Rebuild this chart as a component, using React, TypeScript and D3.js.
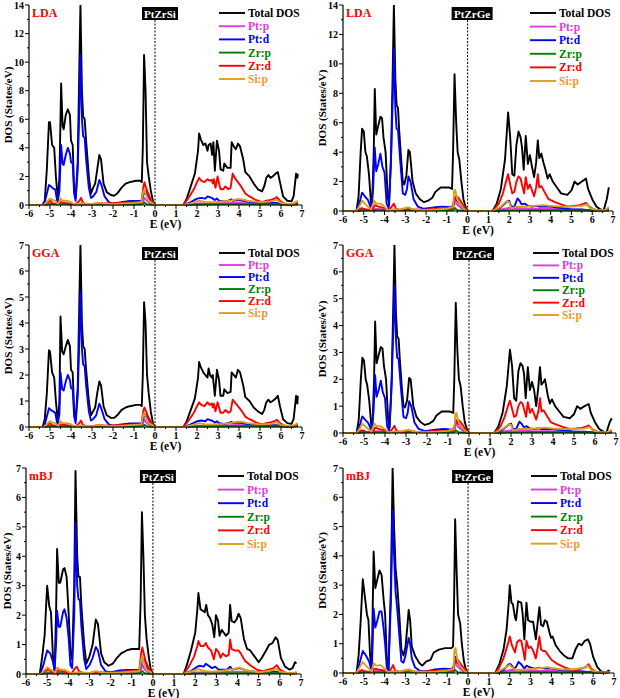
import React from "react";
import * as d3 from "d3";

type P = [number, number];

const ENERGY_TICKS = [-6, -5, -4, -3, -2, -1, 0, 1, 2, 3, 4, 5, 6, 7];
const LDA_TICKS = [0, 2, 4, 6, 8, 10, 12, 14];
const GGA_TICKS = [0, 1, 2, 3, 4, 5, 6, 7];

const SERIES_NAMES = ["Total DOS", "Pt:p", "Pt:d", "Zr:p", "Zr:d", "Si:p"];
const SERIES_COLORS = ["#000000", "#e03ce0", "#0000ff", "#008000", "#ff0000", "#d8a01c"];
const LEGEND_COLORS = ["#000000", "#e03ce0", "#0000ff", "#008000", "#ff0000", "#f0962a"];

// ---------------- LDA PtZrSi ----------------
const ldaSiTotal: P[] = [[-6,0],[-5.35,0],[-5.25,0.3],[-5.15,2.5],[-5.05,5.8],[-5.0,5.8],[-4.9,4.2],[-4.8,4.0],[-4.72,2.0],[-4.62,0.3],[-4.55,2],[-4.47,8.5],[-4.4,5.5],[-4.35,5.3],[-4.25,6.3],[-4.15,6.7],[-4.05,6.3],[-4.0,4.5],[-3.92,4.2],[-3.85,1.0],[-3.78,0.5],[-3.68,3.0],[-3.6,10],[-3.55,14],[-3.48,8],[-3.42,6.2],[-3.35,6.0],[-3.28,4.5],[-3.15,2.0],[-3.05,0.8],[-2.95,1.2],[-2.85,1.5],[-2.75,2.5],[-2.65,3.5],[-2.57,3.2],[-2.45,1.5],[-2.3,0.9],[-2.1,0.7],[-1.95,0.65],[-1.8,0.8],[-1.6,1.2],[-1.4,1.5],[-1.2,1.6],[-0.9,1.7],[-0.7,1.7],[-0.63,1.6],[-0.58,4],[-0.52,10.5],[-0.45,8],[-0.38,3.0],[-0.3,2.0],[-0.2,1.0],[-0.1,0.3],[0,0],[1.35,0],[1.5,0.4],[1.7,1.3],[1.9,2.2],[2.05,3.8],[2.1,5.0],[2.18,4.6],[2.3,4.2],[2.4,4.3],[2.5,3.8],[2.55,4.2],[2.65,4.3],[2.72,3.5],[2.78,4.4],[2.85,2.4],[2.95,4.5],[3.05,3.8],[3.12,2.5],[3.25,2.4],[3.3,2.9],[3.45,2.6],[3.6,2.6],[3.65,4.4],[3.75,4.1],[3.85,3.9],[3.95,4.3],[4.05,4.1],[4.2,3.2],[4.3,2.3],[4.5,2.0],[4.7,1.5],[4.9,1.1],[5.1,0.95],[5.2,1.3],[5.3,1.9],[5.4,2.1],[5.5,1.9],[5.6,2.0],[5.75,2.2],[5.85,2.3],[5.95,1.6],[6.1,0.6],[6.3,0.3],[6.5,0.25],[6.6,0.6],[6.72,2.2],[6.78,1.9],[6.8,2.2]];
const ldaSiPtp: P[] = [[-6,0],[-5.3,0],[-5.0,0.1],[-4.6,0.02],[-4.5,0.1],[-4,0.05],[-3.5,0.05],[-2.7,0.08],[-2,0.05],[-1,0.08],[-0.6,0.1],[-0.5,0.5],[-0.4,0.3],[-0.2,0.1],[0,0],[1.4,0],[2,0.1],[3,0.12],[4,0.15],[5,0.08],[6,0.05],[6.8,0.05]];
const ldaSiPtd: P[] = [[-6,0],[-5.35,0],[-5.25,0.2],[-5.15,0.8],[-5.05,1.4],[-4.95,1.3],[-4.85,1.15],[-4.75,1.1],[-4.65,0.2],[-4.55,1],[-4.47,4.2],[-4.4,2.9],[-4.35,2.8],[-4.25,3.5],[-4.15,4.0],[-4.05,3.6],[-4.0,3.0],[-3.92,2.9],[-3.85,0.8],[-3.78,0.3],[-3.68,2.5],[-3.6,7],[-3.55,10.5],[-3.48,6],[-3.42,4.8],[-3.35,4.7],[-3.28,3.2],[-3.15,1.2],[-3.05,0.5],[-2.95,0.6],[-2.8,0.9],[-2.65,1.75],[-2.55,1.4],[-2.4,0.6],[-2.2,0.2],[-2.0,0.1],[-1.6,0.2],[-1.2,0.28],[-0.8,0.28],[-0.63,0.3],[-0.55,0.7],[-0.5,1.0],[-0.4,0.9],[-0.3,0.5],[-0.15,0.2],[0,0],[1.4,0],[1.7,0.2],[2.0,0.45],[2.2,0.5],[2.4,0.45],[2.5,0.6],[2.6,0.55],[2.7,0.5],[2.85,0.35],[2.95,0.45],[3.05,0.3],[3.3,0.25],[3.5,0.3],[3.65,0.4],[3.7,0.3],[4.0,0.35],[4.3,0.25],[4.6,0.2],[5.0,0.15],[5.5,0.15],[5.8,0.15],[6.0,0.05],[6.5,0.02],[6.75,0.1],[6.8,0.05]];
const ldaSiZrp: P[] = [[-6,0],[-5.3,0],[-5,0.06],[-4.5,0.06],[-3.5,0.04],[-2.7,0.04],[-1,0.04],[-0.6,0.06],[-0.5,0.18],[-0.4,0.06],[0,0],[1.4,0],[2,0.04],[4,0.06],[6,0.05],[6.8,0.05]];
const ldaSiZrd: P[] = [[-6,0],[-5.3,0],[-5.1,0.2],[-5.0,0.3],[-4.9,0.15],[-4.7,0.05],[-4.5,0.2],[-4.3,0.15],[-4.0,0.1],[-3.8,0.02],[-3.6,0.3],[-3.52,0.5],[-3.45,0.2],[-3.3,0.05],[-3.0,0.05],[-2.65,0.15],[-2.4,0.1],[-2.0,0.12],[-1.5,0.15],[-1.0,0.18],[-0.65,0.2],[-0.55,1.3],[-0.5,1.6],[-0.45,1.3],[-0.35,0.9],[-0.2,0.4],[0,0],[1.35,0],[1.6,0.5],[1.85,1.1],[2.0,1.6],[2.1,1.9],[2.2,1.7],[2.35,1.6],[2.5,1.8],[2.6,1.7],[2.7,1.75],[2.75,1.5],[2.8,1.8],[2.88,1.2],[2.98,2.0],[3.05,1.5],[3.12,1.1],[3.25,1.1],[3.35,1.3],[3.5,1.1],[3.6,1.2],[3.7,2.2],[3.8,1.9],[3.95,1.6],[4.1,1.3],[4.3,0.8],[4.5,0.6],[4.8,0.35],[5.1,0.2],[5.3,0.3],[5.5,0.35],[5.7,0.45],[5.8,0.55],[5.95,0.3],[6.2,0.05],[6.5,0.02],[6.7,0.1],[6.8,0.2]];
const ldaSiSip: P[] = [[-6,0],[-5.3,0],[-5.1,0.3],[-5.0,0.45],[-4.9,0.35],[-4.75,0.3],[-4.62,0.05],[-4.5,0.45],[-4.4,0.3],[-4.2,0.3],[-4.0,0.2],[-3.85,0.05],[-3.6,0.1],[-3.3,0.1],[-3.0,0.05],[-2.7,0.15],[-2.4,0.1],[-2.0,0.05],[-1.5,0.1],[-1.0,0.15],[-0.65,0.2],[-0.55,1.0],[-0.5,1.1],[-0.45,0.8],[-0.3,0.3],[0,0],[1.4,0],[1.8,0.15],[2.1,0.3],[2.4,0.2],[2.8,0.2],[3.2,0.25],[3.6,0.3],[3.9,0.4],[4.1,0.4],[4.4,0.3],[5.0,0.2],[5.5,0.25],[5.8,0.35],[6.0,0.15],[6.5,0.05],[6.7,0.2],[6.8,0.3]];

// ---------------- LDA PtZrGe ----------------
const ldaGeTotal: P[] = [[-6,0],[-5.35,0],[-5.25,1.0],[-5.15,4.0],[-5.08,5.6],[-5.0,5.4],[-4.92,4.0],[-4.85,3.7],[-4.75,2.5],[-4.65,0.5],[-4.6,0.3],[-4.52,4],[-4.47,8.3],[-4.4,5.2],[-4.3,5.8],[-4.2,6.4],[-4.12,6.3],[-4.05,5.0],[-3.95,4.0],[-3.85,1],[-3.78,0.4],[-3.68,4],[-3.6,10],[-3.55,14],[-3.48,9],[-3.42,7.2],[-3.35,7.0],[-3.3,5.6],[-3.2,3.5],[-3.12,2.0],[-3.05,1.8],[-2.95,2.4],[-2.85,4.15],[-2.78,4.0],[-2.65,2.0],[-2.5,1.2],[-2.3,0.8],[-2.1,0.6],[-1.9,0.7],[-1.7,0.9],[-1.55,1.3],[-1.3,1.6],[-0.9,1.6],[-0.75,1.5],[-0.7,4],[-0.63,9.3],[-0.55,6],[-0.48,4],[-0.4,3.5],[-0.3,2],[-0.2,0.8],[-0.1,0.3],[0,0],[1.2,0],[1.4,0.5],[1.6,1.5],[1.8,3.5],[1.95,6.7],[2.05,5.0],[2.15,2.5],[2.25,2.4],[2.35,4.5],[2.45,5.4],[2.55,5.0],[2.62,4.3],[2.7,2.8],[2.8,5.1],[2.9,3.2],[3.0,3.8],[3.1,3.0],[3.2,2.3],[3.3,3.3],[3.38,4.8],[3.45,3.6],[3.55,3.9],[3.65,3.3],[3.75,2.8],[3.85,2.2],[3.95,2.5],[4.1,2.0],[4.3,1.6],[4.5,1.2],[4.8,1.1],[5.0,1.4],[5.15,2.0],[5.3,1.8],[5.5,2.0],[5.7,2.2],[5.8,1.5],[6.0,0.8],[6.2,0.3],[6.4,0.1],[6.55,0.05],[6.7,0.8],[6.8,1.6]];
const ldaGePtp: P[] = [[-6,0],[-5.3,0],[-5.1,0.15],[-4.7,0.05],[-4.5,0.15],[-4,0.1],[-3.5,0.05],[-2.8,0.1],[-2,0.05],[-1.2,0.1],[-0.7,0.15],[-0.62,0.9],[-0.55,0.5],[-0.4,0.3],[-0.2,0.1],[0,0],[1.2,0],[2,0.2],[2.4,0.2],[3,0.15],[4,0.15],[5,0.1],[6,0.05],[6.8,0.05]];
const ldaGePtd: P[] = [[-6,0],[-5.35,0],[-5.2,0.6],[-5.08,1.25],[-4.95,1.0],[-4.8,0.75],[-4.65,0.2],[-4.55,1.5],[-4.47,4.3],[-4.4,2.7],[-4.3,3.2],[-4.2,3.9],[-4.1,3.0],[-4.0,2.6],[-3.9,0.5],[-3.8,0.2],[-3.7,3],[-3.6,8],[-3.55,11],[-3.48,7],[-3.42,5.6],[-3.35,5.5],[-3.25,3.5],[-3.12,1.2],[-3.0,1.1],[-2.92,1.5],[-2.85,2.35],[-2.75,2.0],[-2.6,0.8],[-2.4,0.3],[-2.1,0.15],[-1.6,0.25],[-1.2,0.3],[-0.8,0.25],[-0.7,0.4],[-0.63,0.9],[-0.55,0.8],[-0.45,0.6],[-0.3,0.3],[-0.15,0.1],[0,0],[1.2,0],[1.6,0.25],[1.9,0.65],[2.0,0.7],[2.1,0.3],[2.25,0.3],[2.4,0.85],[2.5,0.7],[2.6,0.45],[2.75,0.5],[2.9,0.35],[3.1,0.3],[3.3,0.35],[3.45,0.3],[3.7,0.3],[4.0,0.3],[4.5,0.2],[5,0.1],[5.5,0.1],[5.8,0.05],[6.2,0.02],[6.8,0.05]];
const ldaGeZrp: P[] = [[-6,0],[-5.3,0],[-5,0.05],[-4.5,0.05],[-3.5,0.05],[-0.7,0.05],[-0.62,0.2],[-0.5,0.05],[0,0],[1.2,0],[2,0.05],[4,0.05],[6,0.03],[6.8,0.05]];
const ldaGeZrd: P[] = [[-6,0],[-5.35,0],[-5.1,0.2],[-4.9,0.1],[-4.6,0.05],[-4.47,0.4],[-4.3,0.3],[-4.0,0.2],[-3.8,0.02],[-3.6,0.4],[-3.55,0.5],[-3.45,0.15],[-3.2,0.05],[-2.85,0.15],[-2.5,0.08],[-2,0.1],[-1.5,0.15],[-1.0,0.15],[-0.7,0.25],[-0.63,0.8],[-0.55,1.0],[-0.45,0.9],[-0.3,0.6],[-0.15,0.25],[0,0],[1.2,0],[1.5,0.5],[1.7,1.2],[1.85,2.0],[1.95,2.5],[2.05,1.8],[2.15,1.2],[2.25,1.3],[2.35,2.0],[2.45,2.35],[2.55,2.2],[2.65,1.6],[2.72,1.2],[2.8,2.3],[2.9,1.5],[3.0,1.8],[3.1,1.4],[3.2,1.0],[3.3,1.6],[3.38,2.5],[3.45,1.6],[3.55,1.7],[3.7,1.3],[3.9,0.8],[4.2,0.6],[4.5,0.45],[4.8,0.3],[5.1,0.35],[5.4,0.4],[5.6,0.5],[5.7,0.55],[5.85,0.3],[6.1,0.1],[6.4,0.02],[6.7,0.1],[6.8,0.2]];
const ldaGeSip: P[] = [[-6,0],[-5.35,0],[-5.2,0.35],[-5.08,0.7],[-4.95,0.5],[-4.8,0.3],[-4.65,0.1],[-4.5,0.7],[-4.4,0.5],[-4.2,0.5],[-4.0,0.3],[-3.85,0.05],[-3.6,0.1],[-3.3,0.1],[-2.85,0.25],[-2.6,0.1],[-2.0,0.05],[-1.5,0.1],[-1.0,0.15],[-0.7,0.3],[-0.65,1.4],[-0.6,1.45],[-0.5,0.8],[-0.35,0.4],[-0.15,0.1],[0,0],[1.2,0],[1.6,0.3],[1.9,0.7],[2.0,0.6],[2.1,0.2],[2.4,0.3],[2.8,0.3],[3.2,0.35],[3.6,0.4],[4.0,0.35],[4.5,0.3],[5,0.3],[5.5,0.35],[5.75,0.45],[5.9,0.2],[6.2,0.05],[6.6,0.05],[6.8,0.25]];

// ---------------- GGA PtZrSi ----------------
const ggaSiTotal: P[] = [[-6,0],[-5.35,0],[-5.25,0.3],[-5.15,1.3],[-5.05,2.95],[-5.0,2.9],[-4.9,2.1],[-4.8,1.9],[-4.72,1.0],[-4.62,0.15],[-4.55,1],[-4.5,4.25],[-4.42,2.9],[-4.35,2.8],[-4.25,3.1],[-4.15,3.35],[-4.05,3.1],[-4.0,2.2],[-3.92,2.1],[-3.85,0.6],[-3.78,0.25],[-3.68,1.5],[-3.6,5],[-3.55,7],[-3.48,4],[-3.42,3.1],[-3.35,3.0],[-3.28,2.2],[-3.15,1.0],[-3.05,0.45],[-2.95,0.6],[-2.85,0.75],[-2.75,1.3],[-2.65,1.75],[-2.57,1.6],[-2.45,0.8],[-2.3,0.45],[-2.1,0.35],[-1.95,0.35],[-1.8,0.45],[-1.6,0.65],[-1.4,0.75],[-1.2,0.8],[-0.9,0.85],[-0.7,0.85],[-0.63,0.8],[-0.58,2],[-0.52,4.8],[-0.45,4.0],[-0.38,2.0],[-0.3,1.3],[-0.2,0.6],[-0.1,0.15],[0,0],[1.35,0],[1.5,0.2],[1.7,0.65],[1.9,1.1],[2.05,1.9],[2.1,2.5],[2.18,2.3],[2.3,2.1],[2.4,2.0],[2.5,1.9],[2.55,2.25],[2.62,2.0],[2.7,1.9],[2.75,2.0],[2.85,1.2],[2.95,2.2],[3.05,1.8],[3.12,1.2],[3.25,1.2],[3.3,1.45],[3.45,1.3],[3.6,1.35],[3.65,2.1],[3.75,2.0],[3.85,1.9],[3.95,2.2],[4.05,2.1],[4.2,1.6],[4.3,1.15],[4.5,1.0],[4.7,0.75],[4.9,0.6],[5.1,0.5],[5.2,0.65],[5.3,0.95],[5.4,1.05],[5.5,0.95],[5.6,1.0],[5.75,1.1],[5.85,1.2],[5.95,0.8],[6.1,0.3],[6.3,0.15],[6.5,0.12],[6.6,0.3],[6.72,1.2],[6.78,0.9],[6.8,1.2]];
const ggaSiPtp: P[] = [[-6,0],[-5.3,0],[-5,0.05],[-4.6,0.01],[-4.5,0.05],[-4,0.03],[-3.5,0.03],[-2.7,0.04],[-2,0.03],[-1,0.04],[-0.6,0.05],[-0.5,0.3],[-0.4,0.15],[-0.2,0.05],[0,0],[1.4,0],[2,0.05],[3,0.06],[4,0.08],[5,0.04],[6,0.03],[6.8,0.03]];
const ggaSiPtd: P[] = [[-6,0],[-5.35,0],[-5.25,0.1],[-5.15,0.4],[-5.05,0.72],[-4.95,0.65],[-4.85,0.6],[-4.75,0.55],[-4.65,0.1],[-4.55,0.5],[-4.5,2.1],[-4.42,1.45],[-4.35,1.4],[-4.25,1.75],[-4.15,2.0],[-4.05,1.8],[-4.0,1.5],[-3.92,1.45],[-3.85,0.4],[-3.78,0.15],[-3.68,1.2],[-3.6,3.5],[-3.55,5.2],[-3.48,3],[-3.42,2.4],[-3.35,2.35],[-3.28,1.6],[-3.15,0.6],[-3.05,0.25],[-2.95,0.3],[-2.8,0.45],[-2.65,0.9],[-2.55,0.7],[-2.4,0.3],[-2.2,0.1],[-2.0,0.05],[-1.6,0.1],[-1.2,0.14],[-0.8,0.14],[-0.63,0.15],[-0.55,0.35],[-0.5,0.5],[-0.4,0.45],[-0.3,0.25],[-0.15,0.1],[0,0],[1.4,0],[1.7,0.1],[2.0,0.22],[2.2,0.25],[2.4,0.22],[2.5,0.3],[2.6,0.27],[2.7,0.25],[2.85,0.17],[2.95,0.22],[3.05,0.15],[3.3,0.12],[3.5,0.15],[3.65,0.2],[3.7,0.15],[4.0,0.17],[4.3,0.12],[4.6,0.1],[5.0,0.07],[5.5,0.07],[5.8,0.07],[6.0,0.03],[6.5,0.01],[6.75,0.05],[6.8,0.03]];
const ggaSiZrp: P[] = [[-6,0],[-5.3,0],[-5,0.03],[-4.5,0.03],[-3.5,0.02],[-2.7,0.02],[-1,0.02],[-0.6,0.03],[-0.5,0.08],[-0.4,0.03],[0,0],[1.4,0],[2,0.02],[4,0.03],[6,0.03],[6.8,0.03]];
const ggaSiZrd: P[] = [[-6,0],[-5.3,0],[-5.1,0.1],[-5.0,0.15],[-4.9,0.08],[-4.7,0.03],[-4.5,0.1],[-4.3,0.08],[-4.0,0.05],[-3.8,0.01],[-3.6,0.15],[-3.52,0.25],[-3.45,0.1],[-3.3,0.03],[-3.0,0.03],[-2.65,0.08],[-2.4,0.05],[-2.0,0.06],[-1.5,0.08],[-1.0,0.09],[-0.65,0.1],[-0.55,0.65],[-0.5,0.75],[-0.45,0.65],[-0.35,0.45],[-0.2,0.2],[0,0],[1.35,0],[1.6,0.25],[1.85,0.55],[2.0,0.8],[2.1,0.95],[2.2,0.85],[2.35,0.8],[2.5,0.95],[2.6,0.85],[2.7,0.9],[2.75,0.75],[2.8,0.9],[2.88,0.6],[2.98,0.95],[3.05,0.75],[3.12,0.55],[3.25,0.55],[3.35,0.65],[3.5,0.55],[3.6,0.6],[3.7,1.05],[3.8,0.95],[3.95,0.8],[4.1,0.65],[4.3,0.4],[4.5,0.3],[4.8,0.18],[5.1,0.1],[5.3,0.15],[5.5,0.18],[5.7,0.22],[5.8,0.28],[5.95,0.15],[6.2,0.03],[6.5,0.01],[6.7,0.05],[6.8,0.1]];
const ggaSiSip: P[] = [[-6,0],[-5.3,0],[-5.1,0.15],[-5.0,0.22],[-4.9,0.18],[-4.75,0.15],[-4.62,0.03],[-4.5,0.22],[-4.4,0.15],[-4.2,0.15],[-4.0,0.1],[-3.85,0.03],[-3.6,0.05],[-3.3,0.05],[-3.0,0.03],[-2.7,0.08],[-2.4,0.05],[-2.0,0.03],[-1.5,0.05],[-1.0,0.08],[-0.65,0.1],[-0.55,0.5],[-0.5,0.55],[-0.45,0.4],[-0.3,0.15],[0,0],[1.4,0],[1.8,0.08],[2.1,0.15],[2.4,0.1],[2.8,0.1],[3.2,0.12],[3.6,0.15],[3.9,0.2],[4.1,0.2],[4.4,0.15],[5.0,0.1],[5.5,0.12],[5.8,0.18],[6.0,0.08],[6.5,0.03],[6.7,0.1],[6.8,0.15]];

// ---------------- GGA PtZrGe ----------------
const ggaGeTotal: P[] = [[-6,0],[-5.35,0],[-5.25,0.5],[-5.15,2.0],[-5.08,2.8],[-5.0,2.7],[-4.92,2.0],[-4.85,1.8],[-4.75,1.2],[-4.65,0.25],[-4.6,0.15],[-4.52,2],[-4.47,4.15],[-4.4,2.6],[-4.3,2.9],[-4.2,3.2],[-4.12,3.15],[-4.05,2.5],[-3.95,2.0],[-3.85,0.5],[-3.78,0.2],[-3.68,2],[-3.6,5],[-3.55,7],[-3.48,4.5],[-3.42,3.6],[-3.35,3.5],[-3.3,2.8],[-3.2,1.7],[-3.12,1.0],[-3.05,0.95],[-2.95,1.2],[-2.85,2.05],[-2.78,2.0],[-2.65,1.0],[-2.5,0.6],[-2.3,0.4],[-2.1,0.3],[-1.9,0.35],[-1.7,0.45],[-1.55,0.65],[-1.3,0.8],[-0.9,0.8],[-0.75,0.75],[-0.7,2],[-0.63,4.85],[-0.55,3],[-0.48,2],[-0.4,1.75],[-0.3,1.0],[-0.2,0.4],[-0.1,0.15],[0,0],[1.2,0],[1.4,0.25],[1.6,0.75],[1.8,1.75],[1.95,3.1],[2.05,2.5],[2.15,1.3],[2.25,1.2],[2.35,2.3],[2.45,2.6],[2.55,2.5],[2.62,2.2],[2.7,1.3],[2.8,2.45],[2.9,1.6],[3.0,1.9],[3.1,1.6],[3.2,1.0],[3.3,1.7],[3.38,2.45],[3.45,1.8],[3.55,1.9],[3.62,2.0],[3.75,1.4],[3.85,1.1],[3.95,1.25],[4.1,1.0],[4.3,0.8],[4.5,0.6],[4.8,0.55],[5.0,0.7],[5.15,1.0],[5.3,0.9],[5.5,1.0],[5.7,1.08],[5.8,0.75],[6.0,0.4],[6.2,0.15],[6.4,0.05],[6.55,0.03],[6.7,0.4],[6.8,0.55]];
const ggaGePtp: P[] = [[-6,0],[-5.3,0],[-5.1,0.07],[-4.7,0.02],[-4.5,0.07],[-4,0.05],[-3.5,0.03],[-2.8,0.05],[-2,0.03],[-1.2,0.05],[-0.7,0.07],[-0.63,0.45],[-0.55,0.25],[-0.4,0.15],[-0.2,0.05],[0,0],[1.2,0],[2,0.1],[2.4,0.1],[3,0.07],[4,0.07],[5,0.05],[6,0.03],[6.8,0.03]];
const ggaGePtd: P[] = [[-6,0],[-5.35,0],[-5.2,0.3],[-5.08,0.62],[-4.95,0.5],[-4.8,0.38],[-4.65,0.1],[-4.55,0.75],[-4.47,2.15],[-4.4,1.35],[-4.3,1.6],[-4.2,1.95],[-4.1,1.5],[-4.0,1.3],[-3.9,0.25],[-3.8,0.1],[-3.7,1.5],[-3.6,4],[-3.55,5.5],[-3.48,3.5],[-3.42,2.8],[-3.35,2.75],[-3.25,1.75],[-3.12,0.6],[-3.0,0.55],[-2.92,0.75],[-2.85,1.18],[-2.75,1.0],[-2.6,0.4],[-2.4,0.15],[-2.1,0.07],[-1.6,0.12],[-1.2,0.15],[-0.8,0.12],[-0.7,0.2],[-0.63,0.45],[-0.55,0.4],[-0.45,0.3],[-0.3,0.15],[-0.15,0.05],[0,0],[1.2,0],[1.6,0.12],[1.9,0.32],[2.0,0.35],[2.1,0.15],[2.25,0.15],[2.4,0.42],[2.5,0.35],[2.6,0.22],[2.75,0.25],[2.9,0.17],[3.1,0.15],[3.3,0.17],[3.45,0.15],[3.7,0.15],[4.0,0.15],[4.5,0.1],[5,0.05],[5.5,0.05],[5.8,0.03],[6.2,0.01],[6.8,0.03]];
const ggaGeZrp: P[] = [[-6,0],[-5.3,0],[-5,0.03],[-4.5,0.03],[-3.5,0.03],[-0.7,0.03],[-0.63,0.1],[-0.5,0.03],[0,0],[1.2,0],[2,0.03],[4,0.03],[6,0.02],[6.8,0.03]];
const ggaGeZrd: P[] = [[-6,0],[-5.35,0],[-5.1,0.1],[-4.9,0.05],[-4.6,0.03],[-4.47,0.2],[-4.3,0.15],[-4.0,0.1],[-3.8,0.01],[-3.6,0.2],[-3.55,0.27],[-3.45,0.08],[-3.2,0.03],[-2.85,0.08],[-2.5,0.04],[-2,0.05],[-1.5,0.08],[-1.0,0.08],[-0.7,0.12],[-0.63,0.4],[-0.55,0.5],[-0.45,0.45],[-0.3,0.3],[-0.15,0.12],[0,0],[1.2,0],[1.5,0.25],[1.7,0.6],[1.85,1.0],[1.95,1.2],[2.05,0.9],[2.15,0.6],[2.25,0.65],[2.35,1.0],[2.45,1.15],[2.55,1.1],[2.65,0.8],[2.72,0.6],[2.8,1.15],[2.9,0.75],[3.0,0.9],[3.1,0.7],[3.2,0.5],[3.3,0.8],[3.38,1.3],[3.45,0.8],[3.55,0.85],[3.7,0.65],[3.9,0.4],[4.2,0.3],[4.5,0.22],[4.8,0.15],[5.1,0.17],[5.4,0.2],[5.6,0.25],[5.7,0.28],[5.85,0.15],[6.1,0.05],[6.4,0.01],[6.7,0.05],[6.8,0.1]];
const ggaGeSip: P[] = [[-6,0],[-5.35,0],[-5.2,0.17],[-5.08,0.35],[-4.95,0.25],[-4.8,0.15],[-4.65,0.05],[-4.5,0.35],[-4.4,0.25],[-4.2,0.25],[-4.0,0.15],[-3.85,0.03],[-3.6,0.05],[-3.3,0.05],[-2.85,0.12],[-2.6,0.05],[-2.0,0.03],[-1.5,0.05],[-1.0,0.08],[-0.7,0.15],[-0.65,0.7],[-0.6,0.75],[-0.5,0.4],[-0.35,0.2],[-0.15,0.05],[0,0],[1.2,0],[1.6,0.15],[1.9,0.33],[2.0,0.3],[2.1,0.1],[2.4,0.15],[2.8,0.15],[3.2,0.17],[3.6,0.2],[4.0,0.17],[4.5,0.15],[5,0.15],[5.5,0.17],[5.75,0.22],[5.9,0.1],[6.2,0.03],[6.6,0.03],[6.8,0.12]];

// ---------------- mBJ PtZrSi ----------------
const mbjSiTotal: P[] = [[-6,0],[-5.35,0],[-5.25,0.5],[-5.12,1.3],[-5.0,3.0],[-4.9,2.3],[-4.82,2.1],[-4.72,0.5],[-4.65,0.15],[-4.58,2],[-4.53,4.25],[-4.45,3.1],[-4.38,3.1],[-4.25,3.55],[-4.18,3.6],[-4.08,3.3],[-3.98,2.0],[-3.9,0.7],[-3.82,0.5],[-3.72,3],[-3.66,6.9],[-3.58,4],[-3.52,3.3],[-3.45,3.3],[-3.38,2.3],[-3.25,1.0],[-3.15,0.35],[-3.0,0.6],[-2.85,1.0],[-2.7,1.85],[-2.6,1.7],[-2.45,0.7],[-2.3,0.4],[-2.1,0.28],[-1.9,0.35],[-1.7,0.55],[-1.5,0.7],[-1.25,0.8],[-1.0,0.85],[-0.75,0.85],[-0.65,0.85],[-0.58,2.5],[-0.52,5.5],[-0.45,4.0],[-0.38,2.0],[-0.3,1.2],[-0.2,0.6],[-0.1,0.15],[0,0],[1.45,0],[1.6,0.3],[1.8,0.8],[2.0,1.4],[2.1,2.2],[2.15,2.75],[2.25,2.2],[2.35,2.15],[2.45,2.1],[2.52,2.35],[2.6,2.0],[2.7,1.9],[2.8,1.7],[2.9,1.25],[2.98,2.0],[3.08,1.8],[3.15,1.3],[3.25,1.5],[3.35,1.4],[3.45,1.3],[3.58,1.4],[3.65,2.35],[3.72,1.8],[3.85,1.75],[3.95,1.85],[4.05,2.05],[4.15,1.9],[4.3,1.2],[4.45,0.85],[4.6,0.8],[4.8,0.6],[5.0,0.4],[5.15,0.55],[5.35,0.8],[5.5,1.0],[5.65,1.05],[5.8,1.25],[5.9,1.15],[6.05,0.55],[6.25,0.25],[6.45,0.15],[6.6,0.2],[6.72,0.4],[6.78,0.35]];
const mbjSiPtp: P[] = [[-6,0],[-5.3,0],[-5,0.05],[-4.6,0.01],[-4.5,0.05],[-4,0.03],[-3.6,0.03],[-2.7,0.04],[-2,0.03],[-1,0.04],[-0.6,0.05],[-0.5,0.35],[-0.4,0.15],[-0.2,0.05],[0,0],[1.45,0],[2,0.05],[3,0.06],[4,0.08],[5,0.04],[6,0.03],[6.8,0.03]];
const mbjSiPtd: P[] = [[-6,0],[-5.35,0],[-5.2,0.25],[-5.0,0.8],[-4.85,0.7],[-4.72,0.4],[-4.65,0.1],[-4.58,1.0],[-4.53,2.15],[-4.45,1.6],[-4.38,1.6],[-4.25,2.1],[-4.18,2.2],[-4.08,1.9],[-3.98,1.2],[-3.9,0.3],[-3.82,0.2],[-3.72,2.0],[-3.66,5.15],[-3.58,3.0],[-3.52,2.55],[-3.45,2.5],[-3.38,1.6],[-3.25,0.5],[-3.15,0.17],[-3.0,0.3],[-2.85,0.55],[-2.7,0.92],[-2.6,0.8],[-2.45,0.3],[-2.25,0.1],[-2.0,0.05],[-1.6,0.12],[-1.2,0.14],[-0.8,0.14],[-0.62,0.15],[-0.55,0.4],[-0.5,0.55],[-0.4,0.45],[-0.3,0.25],[-0.15,0.1],[0,0],[1.45,0],[1.8,0.1],[2.1,0.25],[2.2,0.28],[2.4,0.25],[2.5,0.35],[2.6,0.3],[2.8,0.2],[2.95,0.25],[3.1,0.15],[3.3,0.15],[3.5,0.15],[3.65,0.25],[3.75,0.15],[4.1,0.2],[4.4,0.12],[4.8,0.08],[5.2,0.06],[5.6,0.08],[5.9,0.07],[6.2,0.02],[6.8,0.02]];
const mbjSiZrp: P[] = [[-6,0],[-5.3,0],[-5,0.03],[-4.5,0.03],[-3.6,0.02],[-2.7,0.02],[-1,0.02],[-0.6,0.03],[-0.5,0.1],[-0.4,0.03],[0,0],[1.45,0],[2,0.02],[4,0.03],[6,0.03],[6.8,0.03]];
const mbjSiZrd: P[] = [[-6,0],[-5.3,0],[-5.1,0.1],[-4.95,0.15],[-4.8,0.08],[-4.65,0.03],[-4.5,0.12],[-4.3,0.1],[-4.0,0.05],[-3.85,0.01],[-3.68,0.2],[-3.6,0.25],[-3.5,0.1],[-3.3,0.03],[-3.0,0.03],[-2.7,0.08],[-2.4,0.05],[-2.0,0.06],[-1.5,0.08],[-1.0,0.1],[-0.65,0.1],[-0.55,0.75],[-0.5,0.9],[-0.45,0.75],[-0.35,0.45],[-0.2,0.2],[0,0],[1.45,0],[1.7,0.25],[1.95,0.6],[2.1,0.95],[2.15,1.12],[2.25,0.95],[2.4,0.95],[2.5,1.05],[2.6,0.9],[2.75,0.8],[2.88,0.5],[2.98,0.85],[3.1,0.75],[3.2,0.55],[3.3,0.7],[3.45,0.6],[3.58,0.65],[3.65,1.17],[3.72,0.85],[3.85,0.8],[4.05,0.8],[4.15,0.7],[4.35,0.45],[4.6,0.3],[4.9,0.15],[5.2,0.1],[5.45,0.15],[5.7,0.2],[5.85,0.3],[6.0,0.15],[6.3,0.03],[6.6,0.01],[6.8,0.05]];
const mbjSiSip: P[] = [[-6,0],[-5.3,0],[-5.1,0.15],[-4.98,0.22],[-4.85,0.15],[-4.7,0.1],[-4.62,0.03],[-4.52,0.22],[-4.4,0.15],[-4.2,0.15],[-4.0,0.08],[-3.85,0.02],[-3.6,0.05],[-3.3,0.05],[-3.0,0.03],[-2.7,0.1],[-2.4,0.05],[-2.0,0.03],[-1.5,0.05],[-1.0,0.08],[-0.65,0.1],[-0.55,0.5],[-0.5,0.6],[-0.45,0.45],[-0.3,0.15],[0,0],[1.45,0],[1.8,0.08],[2.15,0.17],[2.4,0.1],[2.8,0.08],[3.2,0.1],[3.6,0.15],[3.9,0.18],[4.1,0.22],[4.4,0.12],[5.0,0.06],[5.5,0.1],[5.85,0.17],[6.0,0.08],[6.5,0.03],[6.8,0.05]];

// ---------------- mBJ PtZrGe ----------------
const mbjGeTotal: P[] = [[-6,0],[-5.35,0],[-5.25,0.6],[-5.15,1.8],[-5.05,3.2],[-4.95,2.6],[-4.85,2.0],[-4.78,1.8],[-4.7,0.6],[-4.62,0.1],[-4.58,2],[-4.53,4.15],[-4.45,2.9],[-4.35,3.2],[-4.25,3.5],[-4.15,3.35],[-4.05,2.5],[-3.98,2.0],[-3.9,0.5],[-3.82,0.1],[-3.7,3],[-3.62,7.0],[-3.55,5],[-3.48,3.6],[-3.4,3.0],[-3.3,2.0],[-3.2,0.8],[-3.1,0.6],[-3.0,0.9],[-2.9,1.7],[-2.85,2.15],[-2.78,1.8],[-2.7,0.9],[-2.55,0.6],[-2.35,0.35],[-2.2,0.25],[-2.0,0.4],[-1.8,0.45],[-1.65,0.7],[-1.4,0.8],[-1.1,0.85],[-0.8,0.85],[-0.72,0.9],[-0.67,2.5],[-0.62,5.25],[-0.55,3.5],[-0.48,2.0],[-0.38,1.7],[-0.3,1.0],[-0.2,0.4],[-0.1,0.1],[0,0],[1.3,0],[1.5,0.3],[1.7,0.8],[1.85,1.5],[1.95,2.4],[2.0,3.0],[2.08,2.4],[2.15,2.35],[2.25,1.9],[2.3,1.8],[2.4,2.45],[2.55,2.4],[2.62,2.0],[2.7,1.15],[2.8,2.4],[2.88,1.8],[3.0,1.75],[3.12,1.75],[3.25,1.15],[3.35,1.8],[3.42,2.25],[3.5,1.65],[3.6,1.6],[3.68,1.8],[3.78,1.75],[3.9,1.4],[3.98,1.2],[4.05,1.25],[4.2,0.95],[4.4,0.75],[4.6,0.6],[4.8,0.5],[5.0,0.5],[5.15,0.8],[5.3,1.0],[5.45,0.95],[5.6,1.1],[5.75,1.15],[5.85,1.0],[6.0,0.55],[6.2,0.2],[6.4,0.05],[6.6,0.02],[6.75,0.08],[6.8,0.05]];
const mbjGePtp: P[] = [[-6,0],[-5.3,0],[-5.1,0.07],[-4.7,0.02],[-4.5,0.07],[-4,0.05],[-3.5,0.03],[-2.8,0.05],[-2,0.03],[-1.2,0.05],[-0.7,0.07],[-0.62,0.55],[-0.55,0.25],[-0.4,0.15],[-0.2,0.05],[0,0],[1.3,0],[2,0.1],[2.4,0.1],[3,0.07],[4,0.07],[5,0.05],[6,0.03],[6.8,0.03]];
const mbjGePtd: P[] = [[-6,0],[-5.35,0],[-5.2,0.35],[-5.05,0.75],[-4.9,0.6],[-4.75,0.4],[-4.62,0.05],[-4.58,1.0],[-4.53,2.2],[-4.45,1.55],[-4.35,1.8],[-4.25,2.1],[-4.15,2.1],[-4.05,1.5],[-3.98,1.0],[-3.9,0.2],[-3.82,0.05],[-3.7,2.5],[-3.62,5.55],[-3.55,4.0],[-3.48,2.8],[-3.4,2.2],[-3.3,1.3],[-3.2,0.4],[-3.1,0.35],[-3.0,0.6],[-2.9,1.0],[-2.85,1.2],[-2.78,1.0],[-2.7,0.5],[-2.55,0.2],[-2.3,0.07],[-2.0,0.05],[-1.6,0.12],[-1.2,0.15],[-0.8,0.14],[-0.7,0.2],[-0.62,0.55],[-0.55,0.4],[-0.45,0.3],[-0.3,0.15],[-0.15,0.05],[0,0],[1.3,0],[1.7,0.1],[1.95,0.3],[2.05,0.3],[2.2,0.15],[2.3,0.2],[2.42,0.38],[2.55,0.3],[2.7,0.15],[2.8,0.25],[2.95,0.2],[3.2,0.15],[3.45,0.18],[3.7,0.15],[4.0,0.15],[4.5,0.1],[5.0,0.07],[5.5,0.05],[5.8,0.04],[6.2,0.01],[6.8,0.02]];
const mbjGeZrp: P[] = [[-6,0],[-5.3,0],[-5,0.03],[-4.5,0.03],[-3.5,0.03],[-0.7,0.03],[-0.62,0.1],[-0.5,0.03],[0,0],[1.3,0],[2,0.03],[4,0.03],[6,0.02],[6.8,0.03]];
const mbjGeZrd: P[] = [[-6,0],[-5.35,0],[-5.1,0.1],[-4.9,0.05],[-4.6,0.03],[-4.5,0.15],[-4.3,0.12],[-4.0,0.08],[-3.8,0.01],[-3.65,0.2],[-3.6,0.27],[-3.5,0.08],[-3.2,0.03],[-2.85,0.1],[-2.5,0.04],[-2,0.05],[-1.5,0.08],[-1.0,0.08],[-0.7,0.12],[-0.63,0.4],[-0.6,0.5],[-0.5,0.45],[-0.35,0.3],[-0.15,0.12],[0,0],[1.3,0],[1.5,0.2],[1.7,0.5],[1.85,0.85],[1.95,1.1],[2.0,1.25],[2.1,0.95],[2.25,0.7],[2.35,1.05],[2.45,1.12],[2.55,1.1],[2.65,0.75],[2.72,0.45],[2.8,1.1],[2.9,0.85],[3.0,0.9],[3.1,0.8],[3.25,0.5],[3.35,0.9],[3.42,1.25],[3.5,0.8],[3.6,0.75],[3.7,0.75],[3.85,0.6],[4.0,0.45],[4.3,0.3],[4.6,0.2],[4.9,0.12],[5.2,0.1],[5.45,0.15],[5.65,0.2],[5.78,0.3],[5.9,0.15],[6.1,0.05],[6.4,0.01],[6.8,0.02]];
const mbjGeSip: P[] = [[-6,0],[-5.35,0],[-5.2,0.2],[-5.05,0.37],[-4.9,0.25],[-4.75,0.15],[-4.62,0.05],[-4.53,0.33],[-4.4,0.25],[-4.2,0.27],[-4.0,0.15],[-3.85,0.03],[-3.6,0.05],[-3.3,0.05],[-2.85,0.12],[-2.6,0.05],[-2.0,0.03],[-1.5,0.05],[-1.0,0.08],[-0.7,0.15],[-0.65,0.8],[-0.6,0.85],[-0.5,0.4],[-0.35,0.2],[-0.15,0.05],[0,0],[1.3,0],[1.7,0.15],[2.0,0.28],[2.1,0.2],[2.3,0.1],[2.8,0.12],[3.2,0.15],[3.6,0.18],[3.8,0.2],[4.0,0.17],[4.5,0.12],[5,0.12],[5.5,0.17],[5.75,0.25],[5.9,0.1],[6.2,0.03],[6.8,0.02]];

const METHODS = ["LDA", "LDA", "GGA", "GGA", "mBJ", "mBJ"];
const COMPOUNDS = ["PtZrSi", "PtZrGe", "PtZrSi", "PtZrGe", "PtZrSi", "PtZrGe"];
const Y_MAX = [14, 14, 7, 7, 7, 7];

const PANEL_SERIES: P[][][] = [
  [ldaSiTotal, ldaSiPtp, ldaSiPtd, ldaSiZrp, ldaSiZrd, ldaSiSip],
  [ldaGeTotal, ldaGePtp, ldaGePtd, ldaGeZrp, ldaGeZrd, ldaGeSip],
  [ggaSiTotal, ggaSiPtp, ggaSiPtd, ggaSiZrp, ggaSiZrd, ggaSiSip],
  [ggaGeTotal, ggaGePtp, ggaGePtd, ggaGeZrp, ggaGeZrd, ggaGeSip],
  [mbjSiTotal, mbjSiPtp, mbjSiPtd, mbjSiZrp, mbjSiZrd, mbjSiSip],
  [mbjGeTotal, mbjGePtp, mbjGePtd, mbjGeZrp, mbjGeZrd, mbjGeSip],
];

// layout (pixels)
const LAYOUT = [
  { x0: 29, x1: 302, yTop: 5, yBot: 205, labelX: 12 },
  { x0: 343, x1: 613, yTop: 5, yBot: 211, labelX: 326 },
  { x0: 29, x1: 302, yTop: 245, yBot: 427, labelX: 12 },
  { x0: 343, x1: 616, yTop: 245, yBot: 433, labelX: 326 },
  { x0: 26, x1: 301, yTop: 468, yBot: 674, labelX: 11 },
  { x0: 343, x1: 614, yTop: 468, yBot: 673, labelX: 326 },
];

const FONT = "'Liberation Serif', 'Times New Roman', serif";

function Panel({ idx }: { idx: number }) {
  const L = LAYOUT[idx];
  const ymax = Y_MAX[idx];
  const xs = d3.scaleLinear().domain([-6, 7]).range([L.x0, L.x1]);
  const ys = d3.scaleLinear().domain([0, ymax]).range([L.yBot, L.yTop]);
  const line = d3
    .line<P>()
    .x((d) => xs(d[0]))
    .y((d) => ys(d[1]));
  const yTicks = ymax === 14 ? LDA_TICKS : GGA_TICKS;
  const yStep = ymax === 14 ? 1 : 0.5;
  const yMinor = d3.range(0, ymax + 0.001, yStep);
  const xMinor = d3.range(-6, 7.001, 0.5);
  const h = L.yBot - L.yTop;
  const legSpace = h * 0.066;
  const clipId = `clip${idx}`;
  const x0 = xs(0);
  const isGe = COMPOUNDS[idx] === "PtZrGe";
  const boxW = isGe ? 41 : 36;
  const boxL = x0 - (isGe ? 16 : 13);
  return (
    <g>
      <defs>
        <clipPath id={clipId}>
          <rect x={L.x0} y={L.yTop} width={L.x1 - L.x0 + 2} height={h + 1} />
        </clipPath>
      </defs>
      <g clipPath={`url(#${clipId})`}>
        {PANEL_SERIES[idx].map((s, i) => (
          <path
            key={i}
            d={line(s) || ""}
            fill="none"
            stroke={SERIES_COLORS[i]}
            strokeWidth={1.9}
            strokeLinejoin="round"
          />
        ))}
      </g>
      {/* Fermi level */}
      <line x1={x0} x2={x0} y1={L.yTop + 15} y2={L.yBot} stroke="#000" strokeWidth={1} strokeDasharray="2,1.5" />
      {/* axes */}
      <line x1={L.x0} x2={L.x0} y1={L.yTop} y2={L.yBot} stroke="#000" strokeWidth={1.2} />
      <line x1={L.x0} x2={L.x1} y1={L.yBot} y2={L.yBot} stroke="#000" strokeWidth={1.2} />
      {yMinor.map((v) => (
        <line key={"ym" + v} x1={L.x0 - (yTicks.includes(v) ? 4 : 2)} x2={L.x0} y1={ys(v)} y2={ys(v)} stroke="#000" strokeWidth={1} />
      ))}
      {xMinor.map((v) => (
        <line key={"xm" + v} x1={xs(v)} x2={xs(v)} y1={L.yBot} y2={L.yBot + (Number.isInteger(v) ? 4 : 2)} stroke="#000" strokeWidth={1} />
      ))}
      {yTicks.map((v) => (
        <text key={"yl" + v} x={L.x0 - 5} y={ys(v) + 3.5} textAnchor="end" fontSize={10} fontWeight="bold" fontFamily={FONT}>
          {v}
        </text>
      ))}
      {ENERGY_TICKS.map((v) => (
        <text key={"xl" + v} x={xs(v)} y={L.yBot + 12} textAnchor="middle" fontSize={10} fontWeight="bold" fontFamily={FONT}>
          {v}
        </text>
      ))}
      <text x={(L.x0 + L.x1) / 2} y={L.yBot + 23} textAnchor="middle" fontSize={11.5} fontWeight="bold" fontFamily={FONT}>
        E (eV)
      </text>
      <text
        transform={`translate(${L.labelX},${(L.yTop + L.yBot) / 2}) rotate(-90)`}
        textAnchor="middle"
        fontSize={11}
        fontWeight="bold"
        fontFamily={FONT}
      >
        DOS (States/eV)
      </text>
      {/* method label */}
      <text x={L.x0 + 3} y={L.yTop + 12} fontSize={12} fontWeight="bold" fill="#ff0000" fontFamily={FONT}>
        {METHODS[idx]}
      </text>
      {/* compound box */}
      <rect x={boxL} y={L.yTop + 2} width={boxW} height={13} fill="#000" />
      <text x={boxL + boxW / 2} y={L.yTop + 12.5} textAnchor="middle" fontSize={11} fontWeight="bold" fill="#fff" fontFamily={FONT}>
        {COMPOUNDS[idx]}
      </text>
      {/* legend */}
      {SERIES_NAMES.map((n, i) => {
        const yy = L.yTop + 8 + i * legSpace;
        return (
          <g key={n}>
            <line x1={L.x1 - 83} x2={L.x1 - 57} y1={yy} y2={yy} stroke={SERIES_COLORS[i]} strokeWidth={1.9} />
            <text x={L.x1 - 54} y={yy + 4} fontSize={11.5} fontWeight="bold" fill={LEGEND_COLORS[i]} fontFamily={FONT}>
              {n}
            </text>
          </g>
        );
      })}
    </g>
  );
}

export default function App() {
  return (
    <svg
      width={620}
      height={698}
      style={{ position: "absolute", left: 0, top: 0, background: "#fff" }}
    >
      <rect x={0} y={0} width={620} height={698} fill="#fff" />
      {[0, 1, 2, 3, 4, 5].map((i) => (
        <Panel key={i} idx={i} />
      ))}
    </svg>
  );
}
